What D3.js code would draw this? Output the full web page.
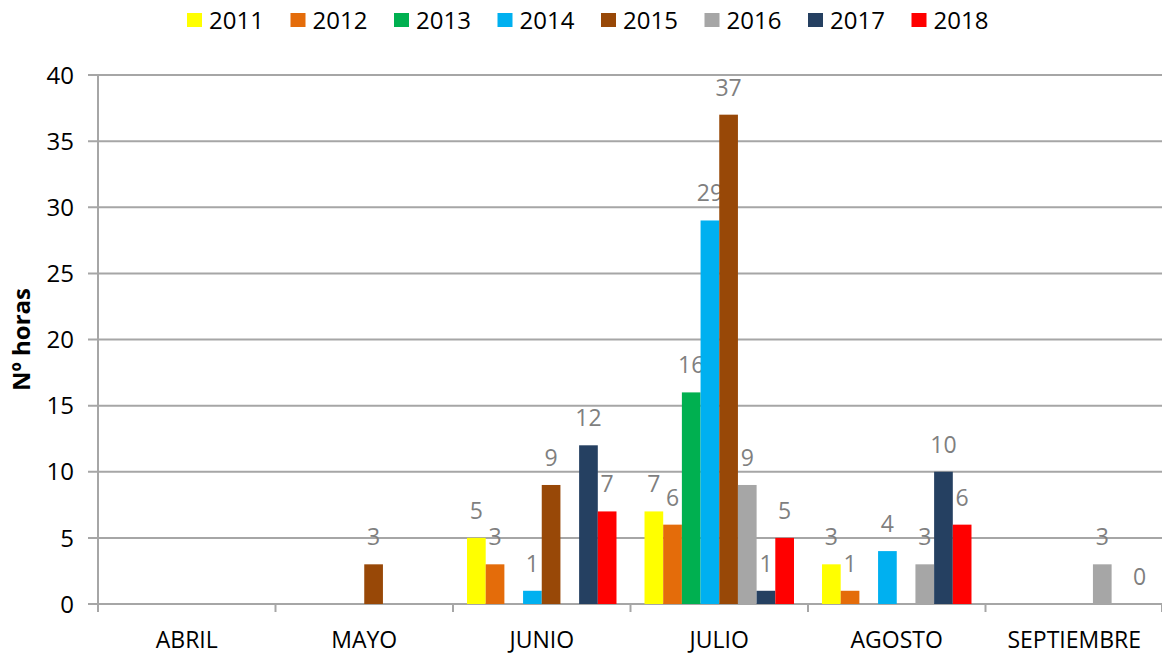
<!DOCTYPE html>
<html>
<head>
<meta charset="utf-8">
<script src="https://cdn.jsdelivr.net/npm/d3@7"></script>
<style>
  body { margin: 0; background: #fff; }
  text { font-family: "Open Sans", "Noto Sans", sans-serif; }
</style>
</head>
<body>
<svg id="chart" width="1162" height="655"></svg>
<script>
// months on the x axis
var months = ["ABRIL", "MAYO", "JUNIO", "JULIO", "AGOSTO", "SEPTIEMBRE"];
var years = ["2011", "2012", "2013", "2014", "2015", "2016", "2017", "2018"];
var colors = ["#ffff00", "#e46c0a", "#00b050", "#00b0f0", "#984807", "#a6a6a6", "#254061", "#ff0000"];

// hours per month, one array per year (null = no bar, no label)
var v2011 = [null, null, 5, 7, 3, null];
var v2012 = [null, null, 3, 6, 1, null];
var v2013 = [null, null, null, 16, null, null];
var v2014 = [null, null, 1, 29, 4, null];
var v2015 = [null, 3, 9, 37, null, null];
var v2016 = [null, null, null, 9, 3, 3];
var v2017 = [null, null, 12, 1, 10, null];
var v2018 = [null, null, 7, 5, 6, 0];

var yTicks = [0, 5, 10, 15, 20, 25, 30, 35, 40];

var series = [v2011, v2012, v2013, v2014, v2015, v2016, v2017, v2018];

//////////////////////////////////////////////////////////////////////////////

var svg = d3.select("#chart");
var plotLeft = 98, plotRight = 1163, plotTop = 75, plotBottom = 604;

var x = d3.scaleBand().domain(months).range([plotLeft, plotRight]).padding(0);
var xs = d3.scaleBand().domain(years).range([0, x.bandwidth()])
    .paddingInner(0).paddingOuter(0.75);
var y = d3.scaleLinear().domain([0, 40]).range([plotBottom, plotTop]);

// gridlines (they also act as the outside ticks)
svg.append("g")
    .selectAll("line")
    .data(yTicks)
    .enter()
    .append("line")
    .attr("x1", plotLeft - 10)
    .attr("x2", plotRight)
    .attr("y1", function(d) { return y(d); })
    .attr("y2", function(d) { return y(d); })
    .attr("stroke", "#a6a6a6")
    .attr("stroke-width", 2);

// y tick labels
svg.append("g")
    .selectAll("text")
    .data(yTicks)
    .enter()
    .append("text")
    .attr("x", 74)
    .attr("y", function(d) { return y(d); })
    .attr("dy", "0.36em")
    .attr("text-anchor", "end")
    .attr("font-size", 24)
    .attr("fill", "#000")
    .text(function(d) { return d; });

// vertical axis line
svg.append("line")
    .attr("x1", plotLeft).attr("x2", plotLeft)
    .attr("y1", plotTop).attr("y2", plotBottom + 8)
    .attr("stroke", "#a6a6a6").attr("stroke-width", 2);

// x ticks at category boundaries
var bounds = months.map(function(m) { return x(m); }).concat([plotRight - 1]);
svg.append("g")
    .selectAll("line")
    .data(bounds)
    .enter()
    .append("line")
    .attr("x1", function(d) { return d; })
    .attr("x2", function(d) { return d; })
    .attr("y1", plotBottom)
    .attr("y2", plotBottom + 8)
    .attr("stroke", "#a6a6a6")
    .attr("stroke-width", 2);

// x labels
svg.append("g")
    .selectAll("text")
    .data(months)
    .enter()
    .append("text")
    .attr("x", function(d) { return x(d) + x.bandwidth() / 2; })
    .attr("y", 648)
    .attr("text-anchor", "middle")
    .attr("font-size", 23)
    .attr("fill", "#000")
    .text(function(d) { return d; });

// bars + labels
var groups = svg.append("g")
    .selectAll("g")
    .data(series)
    .enter()
    .append("g")
    .attr("fill", function(d, i) { return colors[i]; });

groups.each(function(vals, si) {
    var pts = vals.map(function(v, mi) { return {m: months[mi], v: v, yr: years[si]}; })
        .filter(function(p) { return p.v !== null; });
    var g = d3.select(this);
    g.selectAll("rect")
        .data(pts)
        .enter()
        .append("rect")
        .attr("x", function(p) { return x(p.m) + xs(p.yr); })
        .attr("width", xs.bandwidth())
        .attr("y", function(p) { return y(p.v); })
        .attr("height", function(p) { return y(0) - y(p.v); });
    g.selectAll("text")
        .data(pts)
        .enter()
        .append("text")
        .attr("x", function(p) { return x(p.m) + xs(p.yr) + xs.bandwidth() / 2; })
        .attr("y", function(p) { return y(p.v) - 19; })
        .attr("text-anchor", "middle")
        .attr("font-size", 23)
        .attr("fill", "#7f7f7f")
        .text(function(p) { return p.v; });
});

// y axis title
svg.append("text")
    .attr("transform", "translate(30," + ((plotTop + plotBottom) / 2) + ") rotate(-90)")
    .attr("text-anchor", "middle")
    .attr("font-size", 24)
    .attr("font-weight", "bold")
    .attr("fill", "#000")
    .text("Nº  horas");

// legend
var legend = svg.append("g")
    .selectAll("g")
    .data(years)
    .enter()
    .append("g")
    .attr("transform", function(d, i) { return "translate(" + (187 + i * 103.5) + ",0)"; });
legend.append("rect")
    .attr("x", 0).attr("y", 13)
    .attr("width", 15).attr("height", 14)
    .attr("fill", function(d, i) { return colors[i]; });
legend.append("text")
    .attr("x", 22).attr("y", 29)
    .attr("font-size", 24)
    .attr("fill", "#000")
    .text(function(d) { return d; });
</script>
</body>
</html>
